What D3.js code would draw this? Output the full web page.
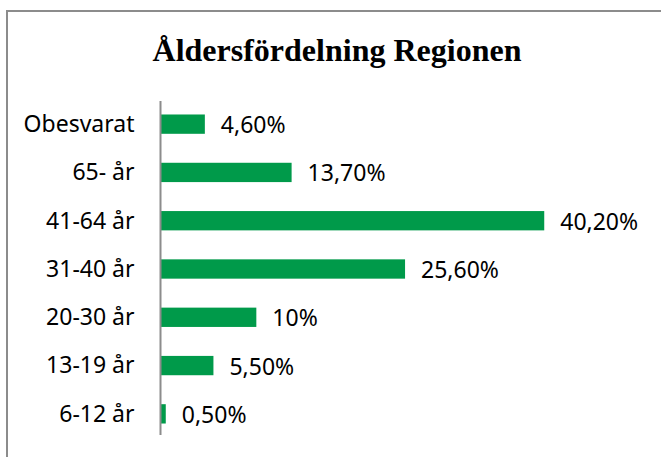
<!DOCTYPE html>
<html>
<head>
<meta charset="utf-8">
<script src="https://cdn.jsdelivr.net/npm/d3@7"></script>
<style>
	body { margin: 0; background: #fff; }
</style>
</head>
<body>
<div id="visHolder"></div>
<script>
const title = "Åldersfördelning Regionen";
const categories = ["Obesvarat", "65- år", "41-64 år", "31-40 år", "20-30 år", "13-19 år", "6-12 år"];
const values = [4.6, 13.7, 40.2, 25.6, 10, 5.5, 0.5];
const valueLabels = ["4,60%", "13,70%", "40,20%", "25,60%", "10%", "5,50%", "0,50%"];

const width = 661;
const height = 457;

const svg = d3
	.select("#visHolder")
	.append("svg")
	.attr("width", width)
	.attr("height", height);

// chart frame (cropped at right and bottom)
svg
	.append("rect")
	.attr("x", 7)
	.attr("y", 11)
	.attr("width", width + 10)
	.attr("height", height + 10)
	.attr("fill", "none")
	.attr("stroke", "#8c8c8c")
	.attr("stroke-width", 2);

svg
	.append("text")
	.attr("x", 337)
	.attr("y", 61)
	.attr("text-anchor", "middle")
	.attr("font-family", "'Liberation Serif', 'Times New Roman', serif")
	.attr("font-weight", "bold")
	.attr("font-size", 32)
	.attr("fill", "#000")
	.text(title);

const data = categories.map((c, i) => ({ category: c, value: values[i], label: valueLabels[i] }));

const y = d3
	.scaleBand()
	.domain(categories)
	.range([100, 438])
	.paddingInner(0.6)
	.paddingOuter(0.3);

const x = d3.scaleLinear().domain([0, 45]).range([161, 590]);

const font = "'Noto Sans', 'Open Sans', sans-serif";

svg
	.append("g")
	.selectAll("rect")
	.data(data)
	.join("rect")
	.attr("x", x(0))
	.attr("y", (d) => y(d.category))
	.attr("width", (d) => x(d.value) - x(0))
	.attr("height", y.bandwidth())
	.attr("fill", "#009a4a");

// category axis
const yAxis = svg
	.append("g")
	.attr("transform", `translate(${x(0) - 0.5},0)`)
	.call(d3.axisLeft(y).tickSize(0).tickPadding(26));

yAxis.select(".domain").attr("stroke", "#8c8c8c").attr("stroke-width", 2).attr("d", `M0,101V435`);
yAxis
	.selectAll("text")
	.attr("font-family", font)
	.attr("font-size", 23)
	.attr("fill", "#000")
	.attr("dy", "0.34em");

svg
	.append("g")
	.selectAll("text")
	.data(data)
	.join("text")
	.attr("x", (d) => x(d.value) + 16)
	.attr("y", (d) => y(d.category) + y.bandwidth() / 2 + 9)
	.attr("font-family", font)
	.attr("font-size", 23)
	.attr("fill", "#000")
	.text((d) => d.label);
</script>
</body>
</html>
